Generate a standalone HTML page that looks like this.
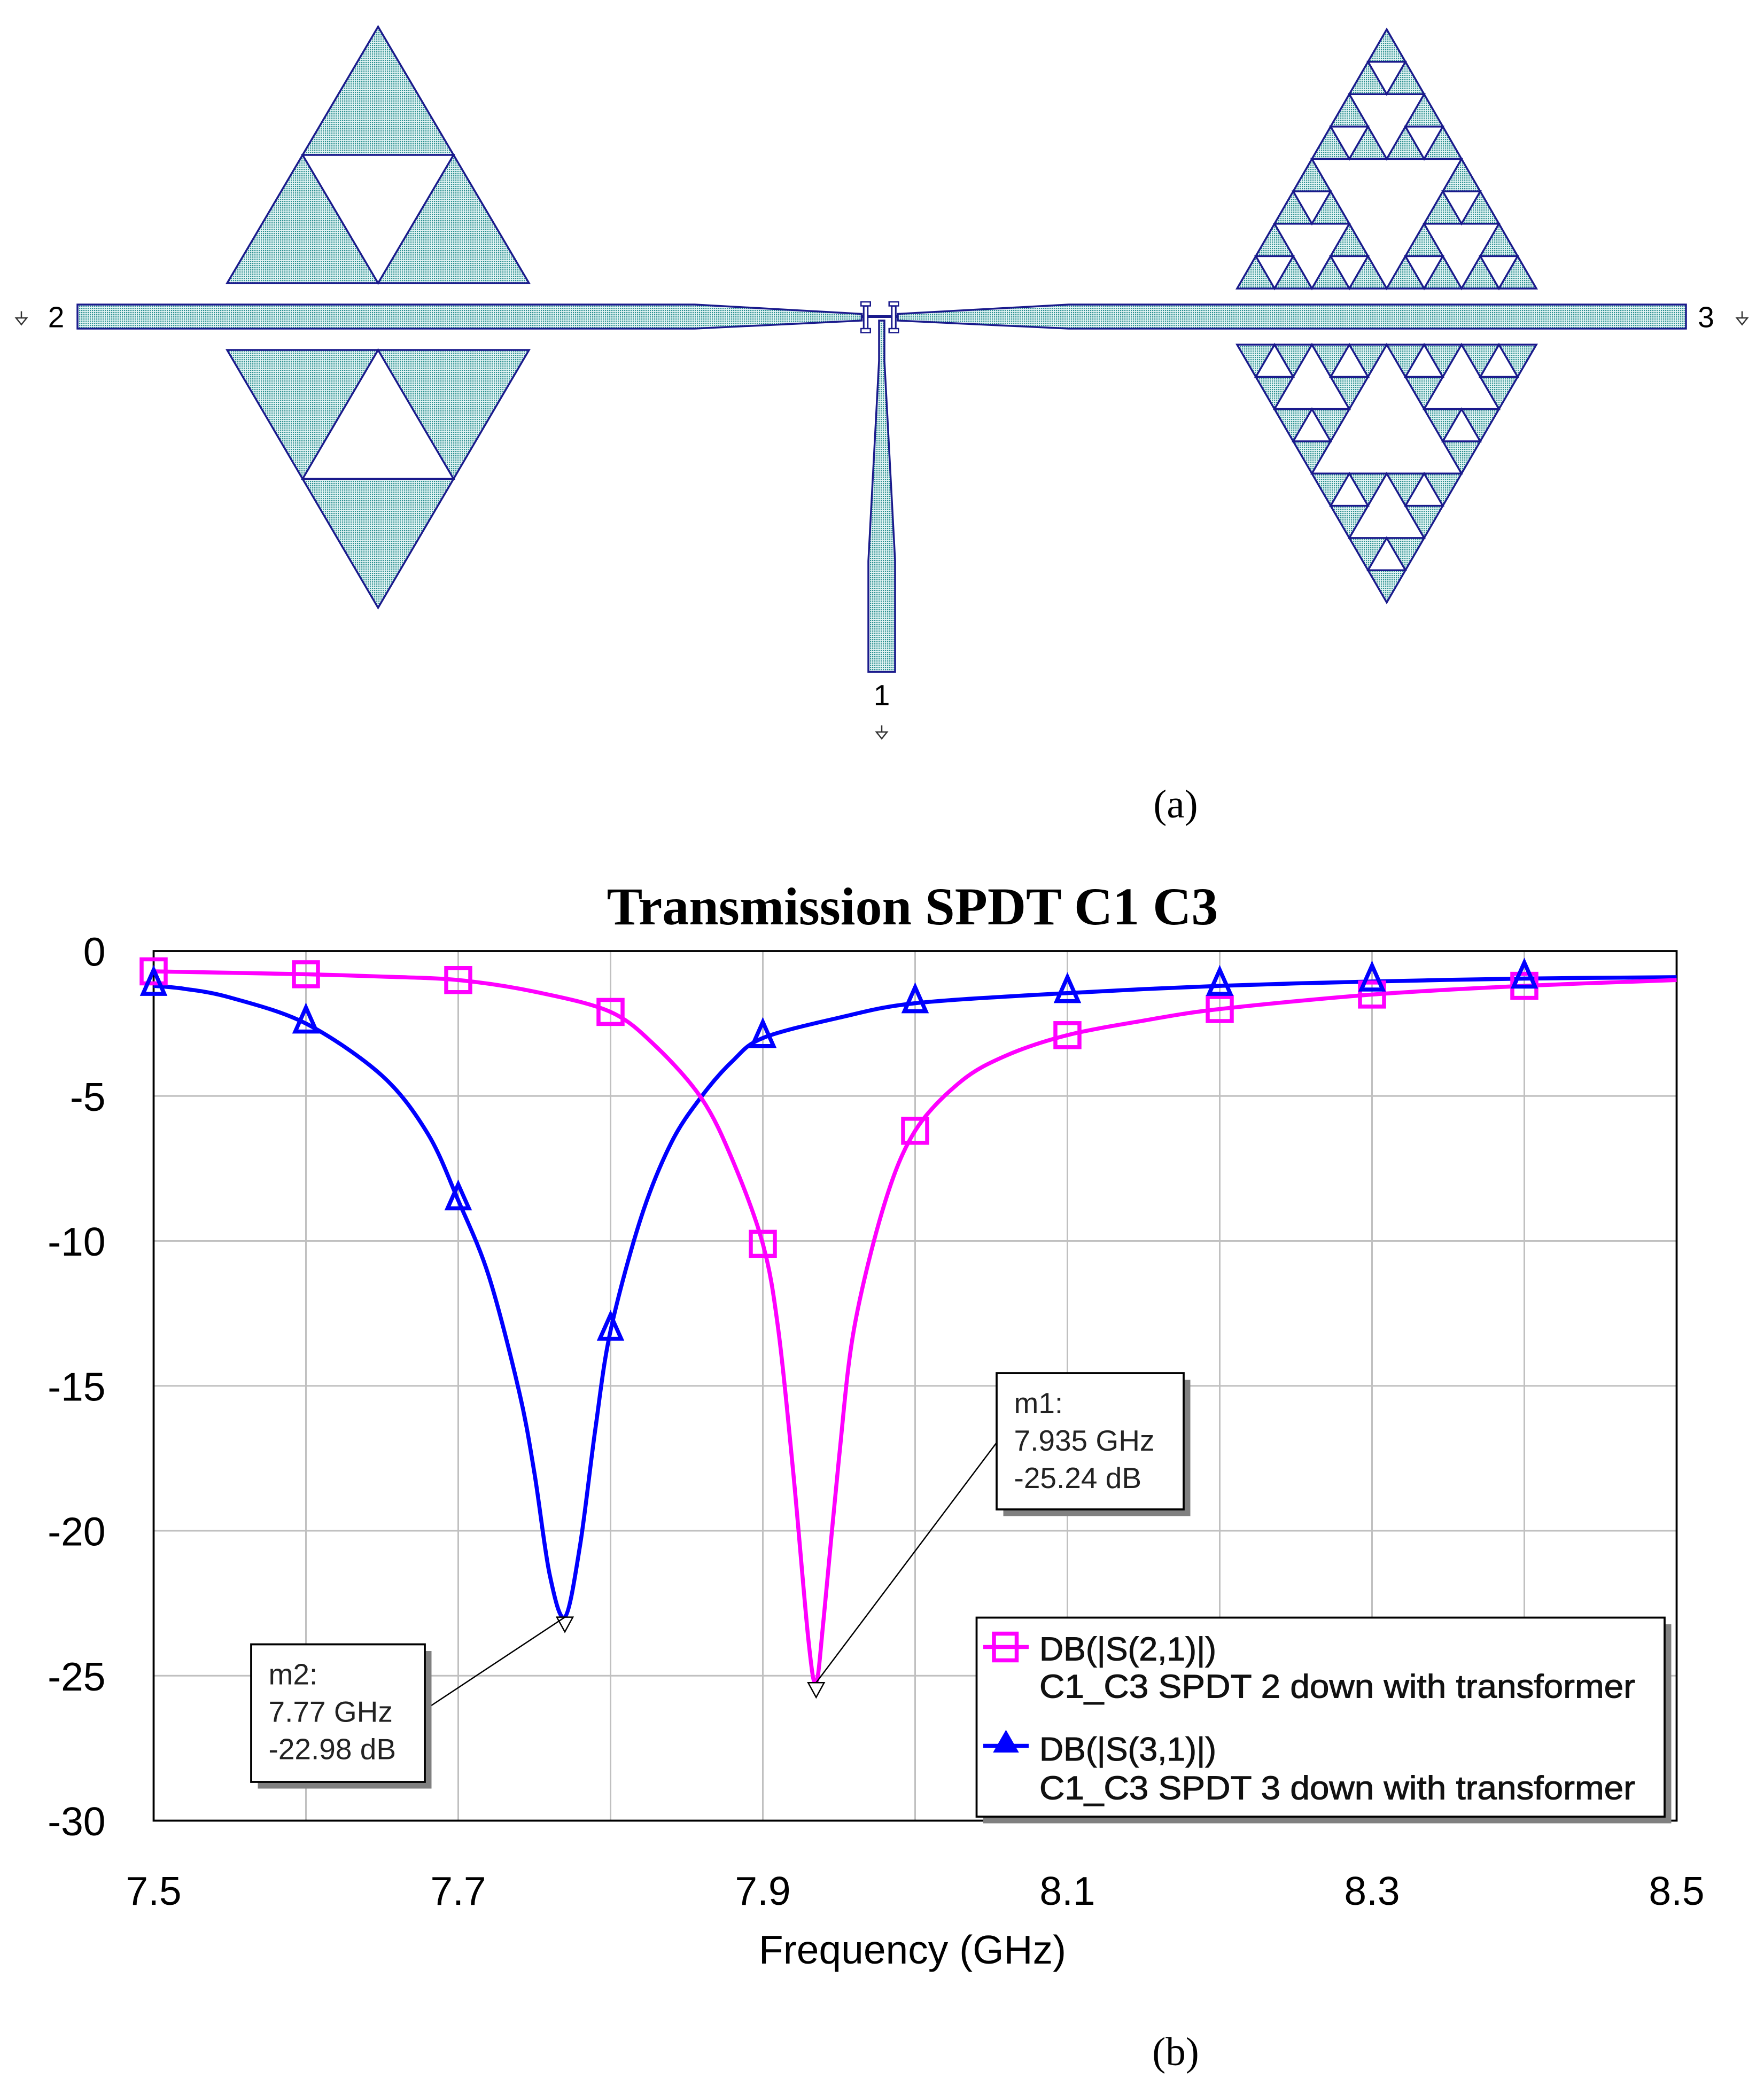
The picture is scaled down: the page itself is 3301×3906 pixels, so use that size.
<!DOCTYPE html>
<html><head><meta charset="utf-8"><style>
html,body{margin:0;padding:0;background:#fff;}
svg{display:block;}
</style></head><body>
<svg id="root" width="3301" height="3906" viewBox="0 0 1320.4 1562.4" preserveAspectRatio="none" xmlns="http://www.w3.org/2000/svg">
<defs>
<pattern id="dots" width="1.6" height="1.6" patternUnits="userSpaceOnUse">
<rect width="1.6" height="1.6" fill="#e4f4f4"/><rect width="0.9" height="0.9" fill="#2a9090"/>
</pattern>
</defs>
<g id="layout"></g>
<text x="880" y="612" font-family="Liberation Serif, serif" font-size="30" text-anchor="middle">(a)</text>
<g id="chart"></g>
<text x="880" y="1546" font-family="Liberation Serif, serif" font-size="30" text-anchor="middle">(b)</text>
</svg>
<script>
// ---------- chart data ----------
const xTicks = [7.5, 7.7, 7.9, 8.1, 8.3, 8.5];
const yTicks = [0, -5, -10, -15, -20, -25, -30];
const s21Freq = [7.5,7.55,7.6,7.65,7.7,7.75,7.8,7.83,7.86,7.88,7.9,7.91,7.92,7.93,7.935,7.94,7.95,7.96,7.98,8.0,8.03,8.06,8.1,8.15,8.2,8.3,8.4,8.5];
const s21Vals = [-0.7,-0.75,-0.8,-0.88,-1.0,-1.4,-2.1,-3.3,-5.1,-7.2,-10.1,-13,-18,-23.8,-25.24,-23,-17.5,-13,-8.7,-6.2,-4.5,-3.6,-2.9,-2.4,-2.0,-1.5,-1.2,-1.0];
const s21MarkF = [7.5,7.6,7.7,7.8,7.9,8.0,8.1,8.2,8.3,8.4];
const s21MarkV = [-0.7,-0.8,-1.0,-2.1,-10.1,-6.2,-2.9,-2.0,-1.5,-1.2];
const s31Freq = [7.5,7.52,7.55,7.6,7.65,7.68,7.7,7.72,7.74,7.75,7.76,7.77,7.78,7.79,7.8,7.82,7.84,7.86,7.88,7.9,7.95,8.0,8.1,8.2,8.3,8.4,8.5];
const s31Vals = [-1.2,-1.3,-1.6,-2.5,-4.3,-6.3,-8.6,-11.2,-15.2,-18,-21.5,-22.98,-20.5,-16.5,-13.1,-9.2,-6.6,-5.0,-3.8,-3.0,-2.3,-1.8,-1.45,-1.2,-1.05,-0.95,-0.9];
const s31MarkF = [7.5,7.6,7.7,7.8,7.9,8.0,8.1,8.2,8.3,8.4];
const s31MarkV = [-1.2,-2.5,-8.6,-13.1,-3.0,-1.8,-1.45,-1.2,-1.05,-0.95];
const m1 = [7.935, -25.24];
const m2 = [7.77, -22.98];

const NS = "http://www.w3.org/2000/svg";
function el(tag, attrs, parent){const e=document.createElementNS(NS,tag);for(const k in attrs)e.setAttribute(k,attrs[k]);parent.appendChild(e);return e;}

// ---------- layout (a) ----------
const L = document.getElementById('layout');
const FILL = "url(#dots)", STK = "#1a1a8c";
function tri(p, parent, fill, name){
  const e = el('polygon',{points:p.map(q=>q.join(',')).join(' '),fill:fill,stroke:STK,'stroke-width':1.4},parent);
  
  
  return e;
}
function sier(ax, ay, by, hw, depth, parent, name){
  tri([[ax,ay],[ax-hw,by],[ax+hw,by]], parent, FILL, name);
  holes(ax, ay, by, hw, depth, parent);
}
function holes(ax, ay, by, hw, depth, parent){
  if(depth<=0) return;
  const my=(ay+by)/2, h2=hw/2;
  tri([[ax-h2,my],[ax+h2,my],[ax,by]], parent, "#fff", 'fractal-hole');
  holes(ax, ay, my, h2, depth-1, parent);
  holes(ax-h2, my, by, h2, depth-1, parent);
  holes(ax+h2, my, by, h2, depth-1, parent);
}
sier(283,20,212,113,1,L,'left-upper-patch');
sier(283,455,262,113,1,L,'left-lower-patch');
sier(1038,22,216,112,3,L,'right-upper-patch');
sier(1038,451,258,112,3,L,'right-lower-patch');
let p;
p = el('polygon',{points:"58,228 520,228 645,235 645,240 520,246 58,246",fill:FILL,stroke:STK,'stroke-width':1.4},L);


p = el('polygon',{points:"1262,228 800,228 672,235 672,240 800,246 1262,246",fill:FILL,stroke:STK,'stroke-width':1.4},L);


p = el('polygon',{points:"658,240 662,240 662,270 670,420 670,503 650,503 650,420 658,270",fill:FILL,stroke:STK,'stroke-width':1.4},L);


el('line',{x1:645,y1:237,x2:672,y2:237,stroke:STK,'stroke-width':2},L);
[648,669].forEach(x=>{
  const g = el('g',{},L);
  
  
  el('rect',{x:x-1.5,y:229,width:3,height:18,fill:"#fff",stroke:STK,'stroke-width':1.2},g);
  el('rect',{x:x-3.5,y:226,width:7,height:3,fill:"#fff",stroke:STK,'stroke-width':1},g);
  el('rect',{x:x-3.5,y:246,width:7,height:3,fill:"#fff",stroke:STK,'stroke-width':1},g);
});
[[42,245,'2','port-2-label'],[1277,245,'3','port-3-label'],[660,528,'1','port-1-label']].forEach(a=>{
  const t = el('text',{x:a[0],y:a[1],'font-family':'Liberation Sans, sans-serif','font-size':22,'text-anchor':'middle'},L);
  t.textContent=a[2];
  
  
});
[[16,238],[1304,238],[660,548]].forEach(a=>{
  const g = el('g',{stroke:'#333','stroke-width':1,fill:'none'},L);
  
  
  el('line',{x1:a[0],y1:a[1]-5,x2:a[0],y2:a[1]},g);
  el('polygon',{points:`${a[0]-4},${a[1]} ${a[0]+4},${a[1]} ${a[0]},${a[1]+5}`},g);
});

// ---------- chart (b) ----------
const C = document.getElementById('chart');
const X0=115, X1=1255, Y0=712, Y1=1363;
const xs = v => X0 + (v-7.5)/(8.5-7.5)*(X1-X0);
const ys = v => Y0 + (0-v)/30*(Y1-Y0);
let t = el('text',{x:683,y:692,'font-family':'Liberation Serif, serif','font-weight':'bold','font-size':40,'text-anchor':'middle'},C);
t.textContent='Transmission SPDT C1 C3';


for(let f=7.6; f<8.5; f+=0.2){
  const l = el('line',{x1:xs(f),y1:Y0,x2:xs(f),y2:Y1,stroke:'#c0c0c0','stroke-width':1.2},C);
  
  
}
for(const v of xTicks){
  const l = el('line',{x1:xs(v),y1:Y0,x2:xs(v),y2:Y1,stroke:'#c0c0c0','stroke-width':1.2},C);
  
  
  const lt = el('text',{x:xs(v),y:1426,'font-family':'Liberation Sans, sans-serif','font-size':30,'text-anchor':'middle'},C);
  lt.textContent=v.toFixed(1);
  
  
}
for(const v of yTicks){
  const l = el('line',{x1:X0,y1:ys(v),x2:X1,y2:ys(v),stroke:'#c0c0c0','stroke-width':1.2},C);
  
  
  const lt = el('text',{x:79,y:ys(v)+11,'font-family':'Liberation Sans, sans-serif','font-size':30,'text-anchor':'end'},C);
  lt.textContent=String(v);
  
  
}
const frame = el('rect',{x:X0,y:Y0,width:X1-X0,height:Y1-Y0,fill:'none',stroke:'#000','stroke-width':1.5},C);


t = el('text',{x:683,y:1470,'font-family':'Liberation Sans, sans-serif','font-size':30,'text-anchor':'middle'},C);
t.textContent='Frequency (GHz)';



function series(fr, vals, color, name){
  const P = fr.map((f,i)=>[xs(f), ys(vals[i])]);
  let d = 'M'+P[0][0].toFixed(2)+','+P[0][1].toFixed(2);
  const k = 0.16;
  for(let i=0;i<P.length-1;i++){
    const p0=P[Math.max(0,i-1)], p1=P[i], p2=P[i+1], p3=P[Math.min(P.length-1,i+2)];
    const c1=[p1[0]+(p2[0]-p0[0])*k, p1[1]+(p2[1]-p0[1])*k];
    const c2=[p2[0]-(p3[0]-p1[0])*k, p2[1]-(p3[1]-p1[1])*k];
    d += ` C${c1[0].toFixed(2)},${c1[1].toFixed(2)} ${c2[0].toFixed(2)},${c2[1].toFixed(2)} ${p2[0].toFixed(2)},${p2[1].toFixed(2)}`;
  }
  const e = el('path',{d:d,fill:'none',stroke:color,'stroke-width':3,'stroke-linejoin':'round'},C);
  
  
}
series(s31Freq,s31Vals,'#0000ff','s31-line');
series(s21Freq,s21Vals,'#ff00ff','s21-line');
s21MarkF.forEach((f,i)=>{
  const m = el('rect',{x:xs(f)-9,y:ys(s21MarkV[i])-9,width:18,height:18,fill:'none',stroke:'#ff00ff','stroke-width':3},C);
  
  
});
s31MarkF.forEach((f,i)=>{
  const x=xs(f), y=ys(s31MarkV[i]);
  const m = el('polygon',{points:`${x},${y-12} ${x-8},${y+6} ${x+8},${y+6}`,fill:'none',stroke:'#0000ff','stroke-width':3},C);
  
  
});
function callout(m, bx, by, bw, bh, lx, ly, lines, name){
  const x=xs(m[0]), y=ys(m[1]);
  const g = el('g',{},C);
  
  
  el('polygon',{points:`${x-6},${y} ${x+6},${y} ${x},${y+11}`,fill:'#fff',stroke:'#000','stroke-width':1},g);
  el('line',{x1:x,y1:y,x2:lx,y2:ly,stroke:'#000','stroke-width':1},g);
  el('rect',{x:bx+5,y:by+5,width:bw,height:bh,fill:'#808080'},g);
  el('rect',{x:bx,y:by,width:bw,height:bh,fill:'#fff',stroke:'#000','stroke-width':1.5},g);
  lines.forEach((s,i)=>{const tt=el('text',{x:bx+13,y:by+30+i*28,'font-family':'Liberation Sans, sans-serif','font-size':22,fill:'#222'},g);tt.textContent=s;});
}
callout(m1,746,1028,140,102,746,1080,['m1:',m1[0]+' GHz',m1[1]+' dB'],'marker-m1');
callout(m2,188,1231,130,103,318,1280,['m2:',m2[0]+' GHz',m2[1]+' dB'],'marker-m2');
const lg = el('g',{},C);


el('rect',{x:736,y:1216,width:515,height:149,fill:'#808080'},lg);
el('rect',{x:731,y:1211,width:515,height:149,fill:'#fff',stroke:'#000','stroke-width':1.5},lg);
const e1 = el('g',{},lg);


el('line',{x1:736,y1:1233,x2:770,y2:1233,stroke:'#ff00ff','stroke-width':3},e1);
el('rect',{x:744,y:1223,width:17,height:20,fill:'none',stroke:'#ff00ff','stroke-width':3},e1);
const e2 = el('g',{},lg);


el('line',{x1:736,y1:1307,x2:770,y2:1307,stroke:'#0000ff','stroke-width':3},e2);
el('polygon',{points:"753,1297 745,1311 761,1311",fill:'#0000ff',stroke:'#0000ff','stroke-width':2},e2);
[['DB(|S(2,1)|)',778,1243,e1],['C1_C3 SPDT 2 down with transformer',778,1271,e1],['DB(|S(3,1)|)',778,1318,e2],['C1_C3 SPDT 3 down with transformer',778,1347,e2]].forEach(a=>{
  const tt = el('text',{x:a[1],y:a[2],'font-family':'Liberation Sans, sans-serif','font-size':25,fill:'#111',stroke:'#111','stroke-width':0.4},a[3]);
  if(a[0].startsWith('C1')) tt.setAttribute('textLength','446');
  tt.setAttribute('lengthAdjust','spacingAndGlyphs');
  tt.textContent=a[0];
});
</script>
</body></html>
